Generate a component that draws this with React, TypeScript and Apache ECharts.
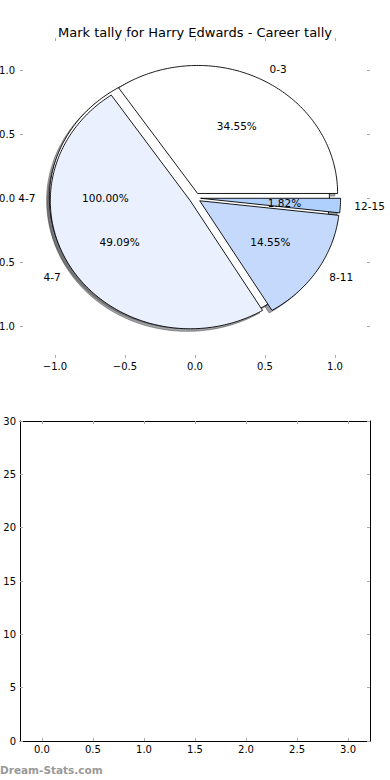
import React, { useEffect, useRef } from 'react';
import * as echarts from 'echarts';

// ---- data ----
const chartTitle = 'Mark tally for Harry Edwards - Career tally';
const categories = ['0-3', '4-7', '8-11', '12-15'];
const tallyValues = [19, 27, 8, 1];
const totalCategories = ['4-7'];
const totalValues = [55];
const sliceColors = ['#ffffff', '#eaf0fd', '#c5d9fc', '#afcffc'];
const pieTicks = [-1, -0.5, 0, 0.5, 1];
const barXTicks = [0, 0.5, 1, 1.5, 2, 2.5, 3];
const watermarkText = 'Dream-Stats.com';

// ---- style / layout ----
const FONT = '"DejaVu Sans", sans-serif';
const EXPLODE = 0.04;
const SHADOW_OFF = -0.02;
const TICK_COLOR = '#aaaaaa';

type Wedge = {
  name: string;
  frac: number;
  t1: number;
  t2: number;
  mid: number;
  cx: number;
  cy: number;
  color: string;
};

function buildWedges(names: string[], values: number[], colors: string[]): Wedge[] {
  const total = values.reduce((a, b) => a + b, 0);
  let theta = 0;
  return values.map((v, i) => {
    const frac = v / total;
    const t1 = theta;
    const t2 = theta + 360 * frac;
    theta = t2;
    const mid = ((t1 + t2) / 2) * Math.PI / 180;
    return {
      name: names[i],
      frac,
      t1,
      t2,
      mid,
      cx: EXPLODE * Math.cos(mid),
      cy: EXPLODE * Math.sin(mid),
      color: colors[i % colors.length],
    };
  });
}

function shadowColor(hex: string): string {
  const h = hex.replace('#', '');
  const r = parseInt(h.slice(0, 2), 16);
  const g = parseInt(h.slice(2, 4), 16);
  const b = parseInt(h.slice(4, 6), 16);
  return `rgba(${Math.round(r * 0.3)},${Math.round(g * 0.3)},${Math.round(b * 0.3)},0.5)`;
}

function wedgePoints(w: Wedge, ox: number, oy: number, api: any): number[][] {
  const full = w.t2 - w.t1 >= 359.999;
  const pts: number[][] = [];
  if (!full) pts.push(api.coord([w.cx + ox, w.cy + oy]));
  const n = Math.max(2, Math.ceil((w.t2 - w.t1) / 1));
  const last = full ? n - 1 : n;
  for (let k = 0; k <= last; k++) {
    const a = ((w.t1 + ((w.t2 - w.t1) * k) / n) * Math.PI) / 180;
    pts.push(api.coord([w.cx + ox + Math.cos(a), w.cy + oy + Math.sin(a)]));
  }
  return pts;
}

const fmtTick = (v: number) => (v < 0 ? '\u2212' : '') + Math.abs(v).toFixed(1);

export default function App() {
  const ref = useRef<HTMLDivElement>(null);

  useEffect(() => {
    if (!ref.current) return;
    const chart = echarts.init(ref.current, undefined, { renderer: 'svg' });

    const wedges = [
      ...buildWedges(totalCategories, totalValues, sliceColors),
      ...buildWedges(categories, tallyValues, sliceColors),
    ];

    const labels: { x: number; y: number; text: string; align: string }[] = [];
    wedges.forEach((w) => {
      const lx = w.cx + 1.1 * Math.cos(w.mid);
      const ly = w.cy + 1.1 * Math.sin(w.mid);
      labels.push({ x: lx, y: ly, text: w.name, align: lx > 0 ? 'left' : 'right' });
      labels.push({
        x: w.cx + 0.6 * Math.cos(w.mid),
        y: w.cy + 0.6 * Math.sin(w.mid),
        text: (w.frac * 100).toFixed(2) + '%',
        align: 'center',
      });
    });

    const tickBase = {
      show: true,
      inside: true,
      length: 3,
      lineStyle: { color: TICK_COLOR, width: 1 },
    };
    const labelBase = { color: '#000', fontSize: 10, fontFamily: FONT };

    const pieX = (pos: string, showLabel: boolean) => ({
      type: 'value',
      gridIndex: 0,
      position: pos,
      min: -1.25,
      max: 1.25,
      axisLine: { show: false, onZero: false },
      splitLine: { show: false },
      axisTick: { ...tickBase, customValues: pieTicks },
      axisLabel: showLabel
        ? { ...labelBase, margin: 3, customValues: pieTicks, formatter: fmtTick }
        : { show: false },
    });
    const pieY = (pos: string, showLabel: boolean) => ({
      type: 'value',
      gridIndex: 0,
      position: pos,
      min: -1.25,
      max: 1.25,
      axisLine: { show: false, onZero: false },
      splitLine: { show: false },
      axisTick: { ...tickBase, customValues: pieTicks },
      axisLabel: showLabel
        ? { ...labelBase, margin: 5, customValues: pieTicks, formatter: fmtTick }
        : { show: false },
    });
    const barX = (pos: string, showLabel: boolean) => ({
      type: 'value',
      gridIndex: 1,
      position: pos,
      min: -0.215,
      max: 3.215,
      axisLine: { show: true, onZero: false, lineStyle: { color: '#000', width: 1 } },
      splitLine: { show: false },
      axisTick: { ...tickBase, customValues: barXTicks },
      axisLabel: showLabel
        ? { ...labelBase, margin: 3, customValues: barXTicks, formatter: fmtTick }
        : { show: false },
    });
    const barY = (pos: string, showLabel: boolean) => ({
      type: 'value',
      gridIndex: 1,
      position: pos,
      min: 0,
      max: 30,
      interval: 5,
      axisLine: { show: true, onZero: false, lineStyle: { color: '#000', width: 1 } },
      splitLine: { show: false },
      axisTick: { ...tickBase },
      axisLabel: showLabel ? { ...labelBase, margin: 4 } : { show: false },
    });

    const option: any = {
      animation: false,
      backgroundColor: '#ffffff',
      title: {
        text: chartTitle,
        left: 'center',
        top: 21,
        textStyle: { fontSize: 13, fontWeight: 'normal', color: '#000', fontFamily: FONT },
      },
      grid: [
        { left: 20, top: 38, width: 350, height: 320, show: false, containLabel: false, outerBoundsMode: 'none' },
        { left: 20, top: 421, width: 350, height: 320, show: false, containLabel: false, outerBoundsMode: 'none' },
      ],
      xAxis: [pieX('bottom', true), pieX('top', false), barX('bottom', true), barX('top', false)],
      yAxis: [pieY('left', true), pieY('right', false), barY('left', true), barY('right', false)],
      series: [
        {
          type: 'custom',
          name: 'shadows',
          coordinateSystem: 'cartesian2d',
          xAxisIndex: 0,
          yAxisIndex: 0,
          silent: true,
          clip: false,
          z: 1,
          data: wedges.map(() => [0, 0]),
          renderItem: (params: any, api: any) => {
            const w = wedges[params.dataIndex];
            const c = shadowColor(w.color);
            return {
              type: 'polygon',
              shape: { points: wedgePoints(w, SHADOW_OFF, SHADOW_OFF, api) },
              style: { fill: c, stroke: c, lineWidth: 1 },
            };
          },
        },
        {
          type: 'custom',
          name: 'wedges',
          coordinateSystem: 'cartesian2d',
          xAxisIndex: 0,
          yAxisIndex: 0,
          silent: true,
          clip: false,
          z: 2,
          data: wedges.map(() => [0, 0]),
          renderItem: (params: any, api: any) => {
            const w = wedges[params.dataIndex];
            return {
              type: 'polygon',
              shape: { points: wedgePoints(w, 0, 0, api) },
              style: { fill: w.color, stroke: '#000', lineWidth: 0.9 },
            };
          },
        },
        {
          type: 'custom',
          name: 'labels',
          coordinateSystem: 'cartesian2d',
          xAxisIndex: 0,
          yAxisIndex: 0,
          silent: true,
          clip: false,
          z: 3,
          data: labels.map((l) => [l.x, l.y]),
          renderItem: (params: any, api: any) => {
            const l = labels[params.dataIndex];
            const p = api.coord([l.x, l.y]);
            return {
              type: 'text',
              x: p[0],
              y: p[1],
              style: {
                text: l.text,
                fill: '#000',
                fontSize: 10.5,
                fontFamily: FONT,
                align: l.align,
                verticalAlign: 'middle',
              },
            };
          },
        },
      ],
      graphic: [
        {
          type: 'text',
          x: 0,
          y: 770,
          style: {
            text: watermarkText,
            fill: '#999999',
            fontSize: 10.5,
            fontWeight: 'bold',
            fontFamily: FONT,
            verticalAlign: 'middle',
          },
        },
      ],
    };

    chart.setOption(option);
    return () => chart.dispose();
  }, []);

  return (
    <div
      ref={ref}
      style={{ position: 'absolute', left: 0, top: 0, width: 390, height: 780, background: '#fff' }}
    />
  );
}
